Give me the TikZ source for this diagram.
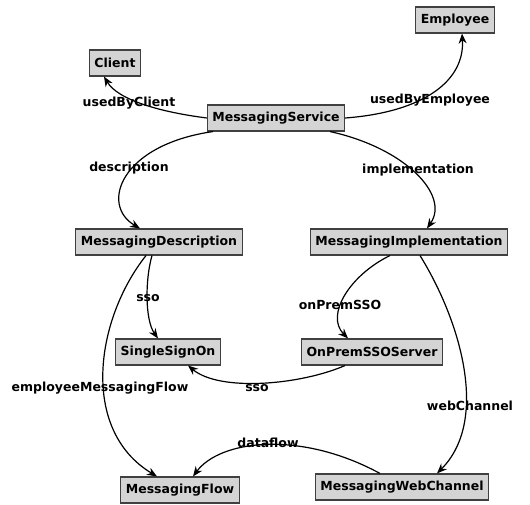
\documentclass[tikz,border=0pt]{standalone}
\usepackage{fontspec}
\setmainfont{DejaVu Sans}
\usetikzlibrary{arrows.meta}

\begin{document}
\begin{tikzpicture}[x=1pt,y=-1pt,
      cls/.style={draw=black!75,fill=black!17,line width=1.1pt,
         font=\fontsize{12.5}{14}\selectfont\bfseries,
         inner xsep=5pt,minimum height=26pt},
      rel/.style={font=\fontsize{12.5}{14}\selectfont\bfseries,inner sep=0pt},
      edge/.style={black,line width=1.2pt,-{Stealth[length=10pt,width=8pt]}}]
            \useasboundingbox (0,0) rectangle (530,505);

            \node [cls] (emp) at (455,20) {Employee};
            \node [cls] (cli) at (115,63) {Client};
            \node [cls] (srv) at (276,118) {MessagingService};
            \node [cls] (desc) at (159,242) {MessagingDescription};
            \node [cls] (impl) at (409,242) {MessagingImplementation};
            \node [cls] (sso) at (168,352) {SingleSignOn};
            \node [cls] (onprem) at (372,352) {OnPremSSOServer};
            \node [cls] (flow) at (180,490) {MessagingFlow};
            \node [cls] (web) at (402,487) {MessagingWebChannel};

            \draw [edge] 
               (srv.west) .. controls (160,112) and (118,100) .. ([xshift=-11pt]cli.south);
            \draw [edge] 
               (srv.east) .. controls (425,112) and (465,80) .. ([xshift=7pt]emp.south);
            \draw [edge] 
               ([xshift=-63pt]srv.south) .. controls (120,145) and (100,205) .. ([xshift=-19pt]desc.north);
            \draw [edge] 
               ([xshift=54pt]srv.south) .. controls (405,148) and (450,195) .. ([xshift=18pt]impl.north);
            \draw [edge] 
               ([xshift=-7pt]desc.south) .. controls (145,280) and (145,320) .. ([xshift=-10pt]sso.north);
            \draw [edge] 
               ([xshift=-13pt]desc.south) .. controls (95,320) and (80,430) .. ([xshift=-23pt]flow.north);
            \draw [edge] 
               ([xshift=-19pt]impl.south) .. controls (350,275) and (325,315) .. ([xshift=-24pt]onprem.north);
            \draw [edge] 
               ([xshift=11pt]impl.south) .. controls (460,320) and (490,420) .. ([xshift=35pt]web.north);
            \draw [edge] 
               ([xshift=-27pt]onprem.south) .. controls (300,385) and (220,392) .. ([xshift=20pt]sso.south);
            \draw [edge] 
               ([xshift=-22pt]web.north) .. controls (300,430) and (220,440) .. ([xshift=13pt]flow.north);

            % edge labels
            \node [rel] (lcli) at (129,103) {usedByClient};
            \node [rel] (lemp) at (430,100) {usedByEmployee};
            \node [rel] (ldesc) at (129,168) {description};
            \node [rel] (limpl) at (418,170) {implementation};
            \node [rel] (lsso) at (148,298) {sso};
            \node [rel] (lonprem) at (340,305) {onPremSSO};
            \node [rel] (lflow) at (100,388) {employeeMessagingFlow};
            \node [rel] (lsso2) at (257,388) {sso};
            \node [rel] (lweb) at (470,406) {webChannel};
            \node [rel] (ldata) at (268,443) {dataflow};
         \end{tikzpicture}
\end{document}
